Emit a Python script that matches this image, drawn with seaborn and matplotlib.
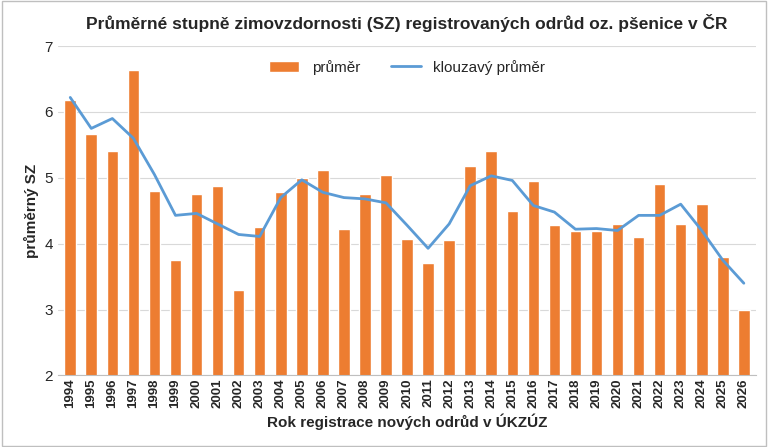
import numpy as np
import pandas as pd
from matplotlib import pyplot as plt
import seaborn as sns

roky = list(range(1994, 2027))
prumer = [6.18, 5.67, 5.4, 6.63, 4.8, 3.75, 4.75, 4.87, 3.3, 4.25, 4.78, 5.0, 5.12, 4.22,
          4.75, 5.05, 4.07, 3.7, 4.05, 5.18, 5.41, 4.5, 4.95, 4.28, 4.2, 4.2, 4.3, 4.1,
          4.9, 4.3, 4.6, 3.8, 3.0]
klouzavy = [6.22, 5.75, 5.9, 5.6, 5.05, 4.43, 4.46, 4.3, 4.14, 4.11, 4.7, 4.97, 4.78, 4.7,
            4.68, 4.62, 4.28, 3.93, 4.3, 4.88, 5.03, 4.96, 4.58, 4.48, 4.22, 4.23, 4.2, 4.43,
            4.43, 4.6, 4.2, 3.75, 3.4]
df = pd.DataFrame({'rok': [str(r) for r in roky], 'prumer': prumer, 'klouzavy': klouzavy})

sns.set_style('white')
plt.rcParams['font.family'] = ['Liberation Sans', 'DejaVu Sans']

fig = plt.figure(figsize=(7.68, 4.47), dpi=100)
ax = fig.add_axes([0.075, 0.16, 0.91, 0.737])
sns.barplot(data=df, x='rok', y='prumer', color='#ED7D31', saturation=1, width=0.55,
            ax=ax, label='průměr', zorder=2)
ax.plot(np.arange(len(df)), df.klouzavy, color='#5B9BD5', lw=2, label='klouzavý průměr', zorder=3)

ax.set_ylim(2, 7)
ax.set_xlim(-0.6, len(df) - 0.4)
ax.yaxis.grid(True, color='#D9D9D9', lw=0.8, zorder=0)
for s in ['top', 'right', 'left']:
    ax.spines[s].set_visible(False)
ax.spines['bottom'].set_color('#BFBFBF')
ax.tick_params(axis='x', rotation=90, labelsize=9.5, length=0, pad=2)
ax.tick_params(axis='y', labelsize=11, length=0)
for t in ax.get_xticklabels():
    t.set_fontweight('bold')
ax.set_xlabel('Rok registrace nových odrůd v ÚKZÚZ', fontsize=11, fontweight='bold')
ax.set_ylabel('průměrný SZ', fontsize=11, fontweight='bold')
ax.set_title('Průměrné stupně zimovzdornosti (SZ) registrovaných odrůd oz. pšenice v ČR',
             fontsize=12.5, fontweight='bold', pad=12)
h, l = ax.get_legend_handles_labels()
order = [l.index('průměr'), l.index('klouzavý průměr')]
ax.legend([h[i] for i in order], [l[i] for i in order], loc='upper center', ncol=2,
          frameon=False, fontsize=11, bbox_to_anchor=(0.5, 1.0))

fig.patches.append(plt.Rectangle((0.002, 0.002), 0.996, 0.996, transform=fig.transFigure,
                                 fill=False, edgecolor='#BFBFBF', lw=1))
fig.savefig('out.png', dpi=100)
